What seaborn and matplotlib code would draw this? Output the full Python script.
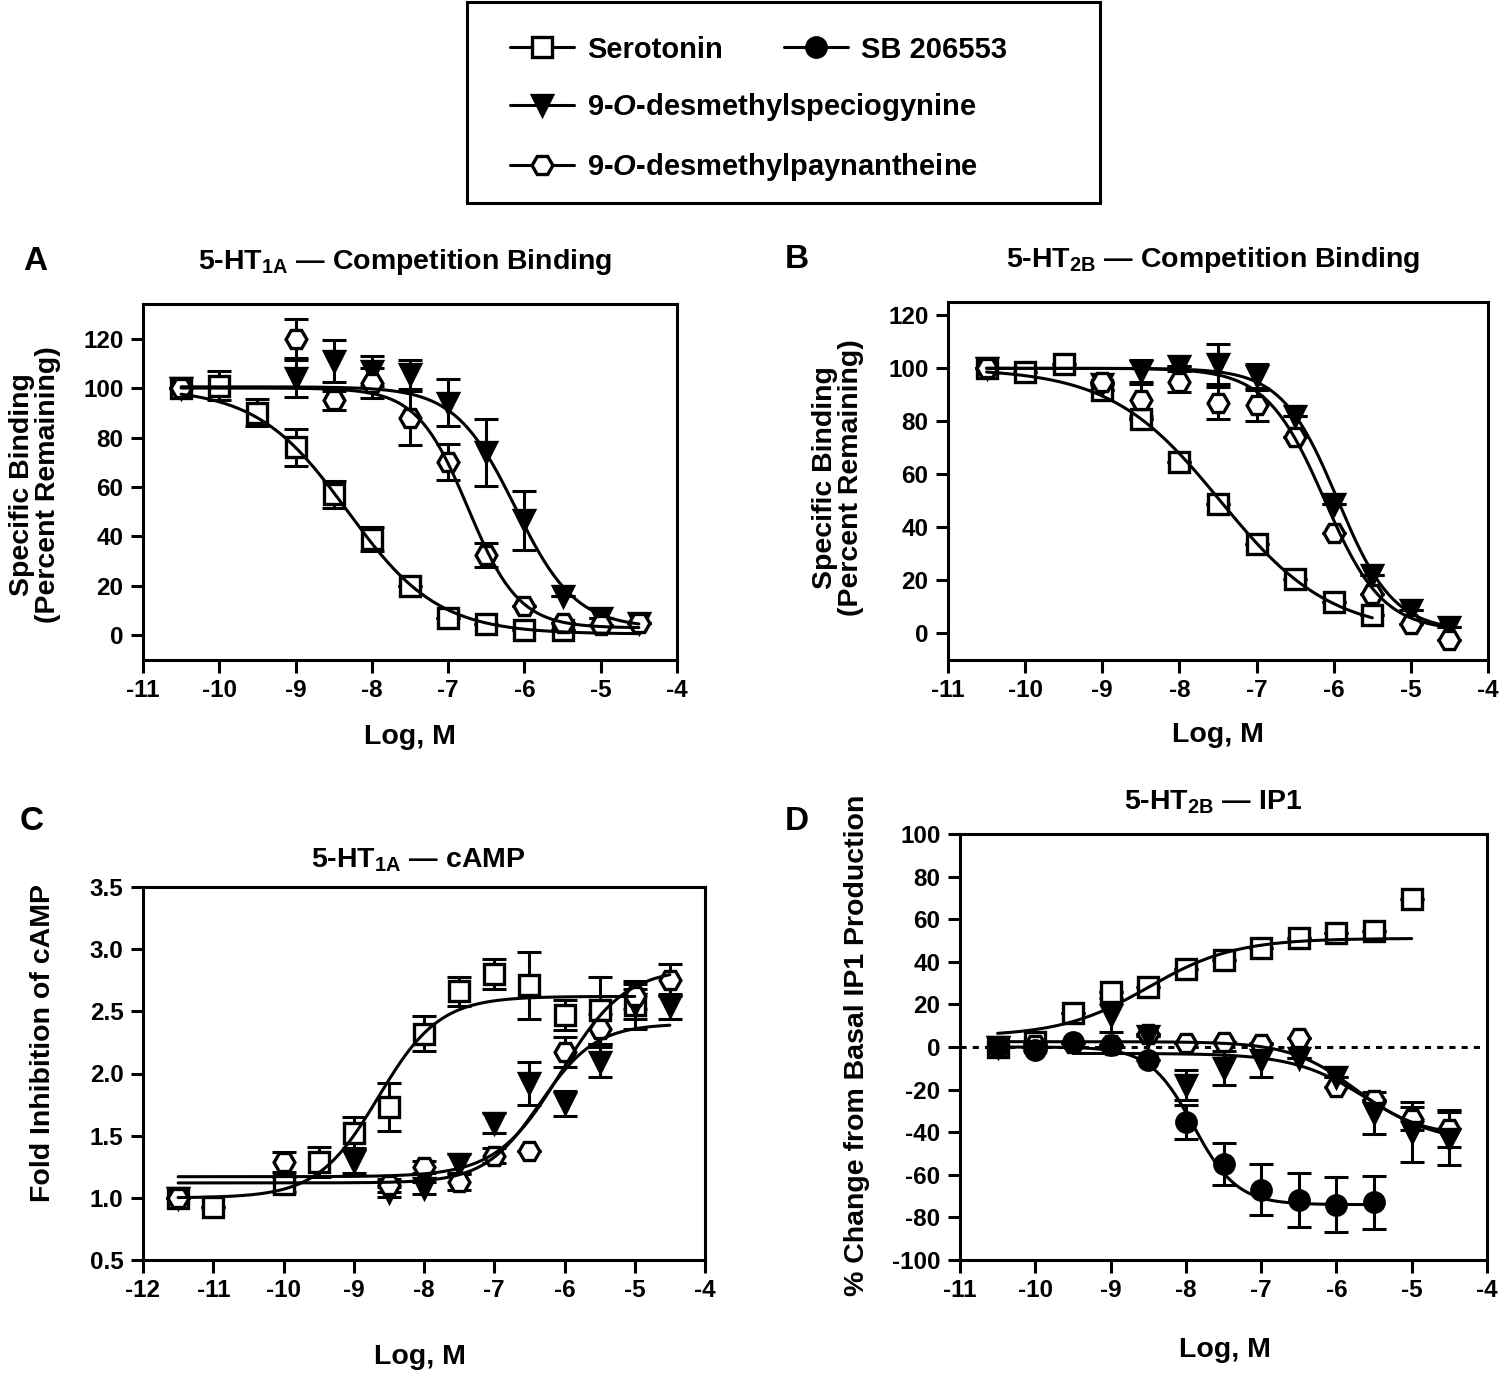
import numpy as np
import matplotlib
matplotlib.use("Agg")
import matplotlib.pyplot as plt
import seaborn as sns
from matplotlib.lines import Line2D
from matplotlib.patches import Rectangle

sns.set_theme(style="ticks")
plt.rcParams['font.family'] = ['Liberation Sans', 'DejaVu Sans']
plt.rcParams['font.weight'] = 'bold'
plt.rcParams['text.color'] = 'black'
plt.rcParams['axes.labelcolor'] = 'black'
plt.rcParams['mathtext.fontset'] = 'custom'
plt.rcParams['mathtext.rm'] = 'Liberation Sans:bold'
plt.rcParams['mathtext.it'] = 'Liberation Sans:italic:bold'
plt.rcParams['mathtext.bf'] = 'Liberation Sans:bold'

# ---- data ----
# panel A: 5-HT1A competition binding
a_sero_x = [-10.5, -10, -9.5, -9, -8.5, -8, -7.5, -7, -6.5, -6, -5.5]
a_sero_y = [100, 101, 90, 76, 57, 39, 20, 7, 4.5, 2, 2]
a_sero_e = [0, 6, 5.5, 7.5, 5.5, 5, 0, 0, 0, 0, 0]
a_spec_x = [-10.5, -9, -8.5, -8, -7.5, -7, -6.5, -6, -5.5, -5, -4.5]
a_spec_y = [100, 104, 111, 107, 105.5, 94, 74, 46.5, 16, 7, 5]
a_spec_e = [0, 7.5, 8.5, 6, 6, 9.5, 13.5, 12, 0, 0, 0]
a_payn_x = [-10.5, -9, -8.5, -8, -7.5, -7, -6.5, -6, -5.5, -5, -4.5]
a_payn_y = [100, 120, 95, 102, 88, 70, 32.5, 12, 5, 4, 5]
a_payn_e = [0, 7.8, 4, 6, 11, 7.3, 4.7, 0, 0, 0, 0]

# panel B: 5-HT2B competition binding
b_sero_x = [-10.5, -10, -9.5, -9, -8.5, -8, -7.5, -7, -6.5, -6, -5.5]
b_sero_y = [100, 98.5, 101.5, 92, 80.8, 64.5, 49, 33.6, 20.4, 12, 7]
b_sero_e = [0, 0, 0, 0, 0, 0, 0, 0, 0, 0, 0]
b_spec_x = [-10.5, -9, -8.5, -8, -7.5, -7, -6.5, -6, -5.5, -5, -4.5]
b_spec_y = [100, 94, 99, 101, 101.5, 97, 82, 49, 22, 9, 2.3]
b_spec_e = [0, 0, 4, 0, 7.5, 4.5, 0, 0, 0, 0, 0]
b_payn_x = [-10.5, -9, -8.5, -8, -7.5, -7, -6.5, -6, -5.5, -5, -4.5]
b_payn_y = [100, 95, 88, 95, 87, 86, 74, 38, 15, 3.4, -2.3]
b_payn_e = [0, 0, 6, 4, 6, 6, 0, 0, 0, 0, 0]

# panel C: 5-HT1A cAMP
c_sero_x = [-11.5, -11, -10, -9.5, -9, -8.5, -8, -7.5, -7, -6.5, -6, -5.5, -5]
c_sero_y = [1.0, 0.93, 1.11, 1.29, 1.52, 1.73, 2.32, 2.66, 2.80, 2.71, 2.47, 2.51, 2.55]
c_sero_e = [0, 0, 0.06, 0.12, 0.13, 0.19, 0.14, 0.12, 0.12, 0.27, 0.12, 0.27, 0.19]
c_spec_x = [-11.5, -9, -8.5, -8, -7.5, -7, -6.5, -6, -5.5, -5, -4.5]
c_spec_y = [1.0, 1.30, 1.05, 1.08, 1.27, 1.60, 1.92, 1.76, 2.09, 2.56, 2.54]
c_spec_e = [0, 0.1, 0.04, 0.05, 0.08, 0.08, 0.17, 0.1, 0.12, 0.12, 0.1]
c_payn_x = [-11.5, -10, -8.5, -8, -7.5, -7, -6.5, -6, -5.5, -5, -4.5]
c_payn_y = [1.0, 1.29, 1.10, 1.25, 1.13, 1.34, 1.38, 2.17, 2.36, 2.62, 2.75]
c_payn_e = [0, 0.08, 0.05, 0.05, 0.07, 0.06, 0, 0.12, 0.12, 0.1, 0.13]

# panel D: 5-HT2B IP1
d_sero_x = [-10.5, -10, -9.5, -9, -8.5, -8, -7.5, -7, -6.5, -6, -5.5, -5]
d_sero_y = [0, 2.4, 16, 26, 28, 36.4, 40.8, 46.3, 51, 53.3, 54.4, 69.3]
d_sero_e = [0, 0, 0, 0, 0, 0, 0, 0, 0, 0, 0, 0]
d_spec_x = [-10.5, -9, -8.5, -8, -7.5, -7, -6.5, -6, -5.5, -5, -4.5]
d_spec_y = [0, 15, 5, -18, -10, -6, -5, -14, -31, -40, -43]
d_spec_e = [0, 8, 0, 7, 8, 8, 0, 0, 10, 14, 12.5]
d_payn_x = [-10.5, -10, -9.5, -9, -8.5, -8, -7.5, -7, -6.5, -6, -5.5, -5, -4.5]
d_payn_y = [0, 1, 2, 1, 6.3, 1.9, 2.4, 1.6, 4, -18.8, -25, -33.7, -38.4]
d_payn_e = [0, 0, 0, 0, 0, 0, 0, 0, 0, 0, 0, 5.5, 8.6]
d_sb_x = [-10.5, -10, -9.5, -9, -8.5, -8, -7.5, -7, -6.5, -6, -5.5]
d_sb_y = [0, -1.6, 2.5, 0.8, -6, -35, -55, -67, -72, -74, -73]
d_sb_e = [0, 0, 0, 0, 0, 8, 10, 12, 12.7, 13, 12.5]

# fitted curve parameters: bottom, top, logEC50, hill, x start, x end
a_sero_fit = [0.5, 100, -8.32, -0.73, -10.5, -4.5]
a_spec_fit = [3, 100.5, -6.12, -1.1, -10.5, -4.5]
a_payn_fit = [3, 100, -6.74, -1.3, -10.5, -4.5]
b_sero_fit = [0, 100, -7.47, -0.61, -10.5, -5.5]
b_spec_fit = [1, 100, -5.95, -1.2, -10.5, -4.5]
b_payn_fit = [1, 100, -6.12, -1.15, -10.5, -4.5]
c_sero_fit = [1.0, 2.62, -8.65, 1.0, -11.5, -5]
c_spec_fit = [1.12, 2.40, -6.35, 1.1, -11.5, -4.5]
c_payn_fit = [1.17, 2.85, -6.05, 0.95, -11.5, -4.5]
d_sero_fit = [5, 51, -8.5, 0.75, -10.5, -5]
d_spec_fit = [-45, -3, -5.6, -0.9, -9.5, -4.5]
d_payn_fit = [-42, 2.5, -5.75, -1.0, -10.5, -4.5]
d_sb_fit = [-74, 0, -7.9, -1.5, -10.5, -5.5]

names = ["Serotonin", "SB 206553",
         "9-$\\it{O}$-desmethylspeciogynine", "9-$\\it{O}$-desmethylpaynantheine"]

W, H = 1500, 1374
fig = plt.figure(figsize=(W / 100, H / 100), dpi=100)


def px_axes(l, t, r, b):
    return fig.add_axes([l / W, 1 - b / H, (r - l) / W, (b - t) / H])


LW = 2.2
styles = {
    "sero": dict(marker="s", ms=14, mfc="white"),
    "spec": dict(marker="v", ms=15, mfc="black"),
    "payn": dict(marker="H", ms=15, mfc="white"),
    "sb": dict(marker="o", ms=14, mfc="black"),
}


def draw(ax, kind, x, y, e, fit):
    ax.errorbar(x, y, yerr=e, fmt="none", ecolor="black", elinewidth=LW,
                capsize=8.5, capthick=LW, zorder=2)
    st = styles[kind]
    ax.plot(x, y, ls="none", marker=st["marker"], ms=st["ms"], mfc=st["mfc"],
            mec="black", mew=2.4, zorder=3)
    bottom, top, logc, hill, x0, x1 = fit
    xs = np.linspace(x0, x1, 200)
    ys = bottom + (top - bottom) / (1 + 10 ** (hill * (logc - xs)))
    sns.lineplot(x=xs, y=ys, ax=ax, color="black", lw=LW, zorder=4)


def style_axes(ax, xlim, ylim, xt, yt, fmt=None):
    ax.set_xlim(*xlim)
    ax.set_ylim(*ylim)
    ax.set_xticks(xt)
    ax.set_yticks(yt)
    if fmt:
        ax.set_yticklabels([fmt % v for v in yt])
    else:
        ax.set_yticklabels(["%d" % v for v in yt])
    ax.set_xticklabels(["%d" % v for v in xt])
    for s in ax.spines.values():
        s.set_linewidth(LW)
        s.set_color("black")
    ax.tick_params(direction="out", length=9, width=LW, labelsize=17.5,
                   colors="black", labelcolor="black", pad=5)
    for lab in ax.get_xticklabels() + ax.get_yticklabels():
        lab.set_fontweight("bold")
    ax.set_xlabel("")
    ax.set_ylabel("")


# A
axA = px_axes(143, 304, 677, 660)
draw(axA, "sero", a_sero_x, a_sero_y, a_sero_e, a_sero_fit)
draw(axA, "spec", a_spec_x, a_spec_y, a_spec_e, a_spec_fit)
draw(axA, "payn", a_payn_x, a_payn_y, a_payn_e, a_payn_fit)
style_axes(axA, (-11, -4), (-10, 134), range(-11, -3), range(0, 121, 20))

# B
axB = px_axes(948, 302, 1488, 660)
draw(axB, "sero", b_sero_x, b_sero_y, b_sero_e, b_sero_fit)
draw(axB, "spec", b_spec_x, b_spec_y, b_spec_e, b_spec_fit)
draw(axB, "payn", b_payn_x, b_payn_y, b_payn_e, b_payn_fit)
style_axes(axB, (-11, -4), (-10, 125), range(-11, -3), range(0, 121, 20))

# C
axC = px_axes(143, 887, 705, 1260)
draw(axC, "sero", c_sero_x, c_sero_y, c_sero_e, c_sero_fit)
draw(axC, "spec", c_spec_x, c_spec_y, c_spec_e, c_spec_fit)
draw(axC, "payn", c_payn_x, c_payn_y, c_payn_e, c_payn_fit)
style_axes(axC, (-12, -4), (0.5, 3.5), range(-12, -3), np.arange(0.5, 3.51, 0.5), "%.1f")

# D
axD = px_axes(960, 834, 1487, 1260)
axD.axhline(0, color="black", lw=LW, ls=(0, (2, 2)), zorder=1)
draw(axD, "sero", d_sero_x, d_sero_y, d_sero_e, d_sero_fit)
draw(axD, "payn", d_payn_x, d_payn_y, d_payn_e, d_payn_fit)
draw(axD, "spec", d_spec_x, d_spec_y, d_spec_e, d_spec_fit)
draw(axD, "sb", d_sb_x, d_sb_y, d_sb_e, d_sb_fit)
style_axes(axD, (-11, -4), (-100, 100), range(-11, -3), range(-100, 101, 20))


def ftext(x, y, s, size=20.5, **kw):
    fig.text(x / W, 1 - y / H, s, fontsize=size, fontweight="bold", color="black",
             ha=kw.pop("ha", "center"), va=kw.pop("va", "center"), **kw)


# panel letters and titles
ftext(35, 262, "A", size=24)
ftext(797, 260, "B", size=24)
ftext(32, 822, "C", size=24)
ftext(797, 822, "D", size=24)
ftext(405, 262, "5-HT$_{\\mathrm{1A}}$ — Competition Binding")
ftext(1213, 260, "5-HT$_{\\mathrm{2B}}$ — Competition Binding")
ftext(418, 860, "5-HT$_{\\mathrm{1A}}$ — cAMP")
ftext(1213, 802, "5-HT$_{\\mathrm{2B}}$ — IP1")

# axis labels
ftext(35, 485, "Specific Binding\n(Percent Remaining)", rotation=90, linespacing=1.0)
ftext(838, 478, "Specific Binding\n(Percent Remaining)", rotation=90, linespacing=1.0)
ftext(43, 1043, "Fold Inhibition of cAMP", rotation=90)
ftext(857, 1045, "% Change from Basal IP1 Production", rotation=90)
ftext(410, 737, "Log, M")
ftext(1218, 735, "Log, M")
ftext(420, 1357, "Log, M")
ftext(1225, 1350, "Log, M")

# legend
fig.patches.append(Rectangle((467 / W, 1 - 203 / H), 633 / W, 201 / H,
                             transform=fig.transFigure, fill=False,
                             lw=LW, edgecolor="black"))


def handle(kind):
    st = styles[kind]
    return Line2D([], [], color="black", lw=LW, marker=st["marker"],
                  ms=st["ms"], mfc=st["mfc"], mec="black", mew=2.4)


leg1 = fig.legend([handle("sero"), handle("spec"), handle("payn")],
                  [names[0], names[2], names[3]],
                  loc="upper left", bbox_to_anchor=(495 / W, 1 - 21 / H),
                  frameon=False, borderpad=0, handlelength=2.2,
                  handletextpad=0.45, labelspacing=0.95,
                  prop={"weight": "bold", "size": 21})
leg2 = fig.legend([handle("sb")], [names[1]],
                  loc="upper left", bbox_to_anchor=(769 / W, 1 - 21 / H),
                  frameon=False, borderpad=0, handlelength=2.2,
                  handletextpad=0.45, prop={"weight": "bold", "size": 21})
for leg in (leg1, leg2):
    for t in leg.get_texts():
        t.set_color("black")

fig.savefig("out.png", dpi=100)
